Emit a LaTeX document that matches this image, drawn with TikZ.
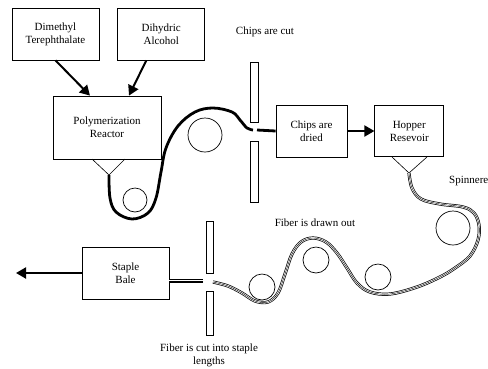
\documentclass[tikz,border=0pt]{standalone}
\usepackage{fontspec}
\setmainfont{Liberation Serif}
\usetikzlibrary{arrows.meta,positioning}

\begin{document}
\begin{tikzpicture}[
    x=1pt, y=-1pt,
    font=\fontsize{11}{13}\selectfont,
    box/.style={rectangle, draw, line width=0.8pt, minimum width=87pt, minimum height=52pt, align=center, inner sep=2pt},
    label/.style={align=center, inner sep=1pt},
    arrow/.style={-{Triangle[length=10pt,width=11pt]}, line width=2pt},
    roller/.style={draw, line width=0.7pt},
    cutter/.style={draw, line width=0.7pt},
    polymer/.style={line width=2.8pt, line join=round},
    fiber/.style={line width=3.2pt, line join=round, postaction={draw=white, line width=1.8pt}, postaction={draw=black, line width=0.4pt}}
]
\clip (0,0) rectangle (488,368);

% Raw materials
\node[box] (dmt) at (55.5,34) {Dimethyl\\Terephthalate};
\node[box, right=18pt of dmt] (dha) {Dihydric\\Alcohol};

% Reactor
\node[box, minimum width=108pt, minimum height=63pt] (reactor) at (107,127.5) {Polymerization\\Reactor};

% Dryer and hopper
\node[box, minimum width=71pt] (dried) at (311.5,131) {Chips are\\dried};
\node[box, minimum width=69pt, minimum height=51pt, right=27pt of dried] (hopper) {Hopper\\Resevoir};

% Staple bale
\node[box] (bale) at (125.5,273) {Staple\\Bale};
\coordinate (out) at (16,273);

% Funnels
\coordinate (rtip) at (109,175);
\coordinate (htip) at (409,173);
\draw[line width=0.6pt] (92,159) -- (rtip) -- (125,159);
\draw[line width=0.6pt] (392,157) -- (htip) -- (427,157);

% Rollers
\draw[roller] (135,200) circle (12);
\draw[roller] (205,135) circle (17);
\draw[roller] (453,228) circle (17);
\draw[roller] (378,277) circle (13);
\draw[roller] (316,260) circle (13);
\draw[roller] (262,287) circle (13);

% Cutters
\draw[cutter] (250,62) rectangle (258,122);
\draw[cutter] (250,141) rectangle (258,202);
\draw[cutter] (206,221) rectangle (213,273);
\draw[cutter] (206,291) rectangle (213,335);

% Labels
\node[label] (cut) at (265,32) {Chips are cut};
\node[label] (drawn) at (315,223) {Fiber is drawn out};
\node[label] (staple) at (209,355) {Fiber is cut into staple\\lengths};
\node[label, anchor=west] (spin) at (448,181) {Spinneret};

% Arrows
\draw[arrow] (dmt.south) -- ([xshift=-17pt]reactor.north);
\draw[arrow] ([xshift=-15pt]dha.south) -- ([xshift=22pt]reactor.north);
\draw[arrow] (dried.east) -- (hopper.west);
\draw[arrow] (bale.west) -- (out);

% Polymer strand
\draw[polymer] plot[smooth, tension=0.6] coordinates {(109,175) (110,198) (116,212) (132,219) (148,213) (156,198) (161,172) (166,148) (178,126) (195,112) (213,108) (232,112) (240,120) (247,128) (253,130)};
\draw[polymer] (257,130) -- (dried.west);

% Fiber
\draw[fiber] plot[smooth, tension=0.6] coordinates {(htip) (412,188) (421,199) (440,204) (463,207) (474,213) (479,225) (478,240) (470,256) (455,268) (440,277) (417,287) (390,294) (370,292) (357,283) (347,268) (337,253) (326,242) (313,238) (301,242) (292,254) (285,274) (278,293) (268,302) (255,301) (242,293) (228,286) (213,282)};
\draw[fiber] (203,281) -- ([yshift=-8pt]bale.east);

\end{tikzpicture}
\end{document}
